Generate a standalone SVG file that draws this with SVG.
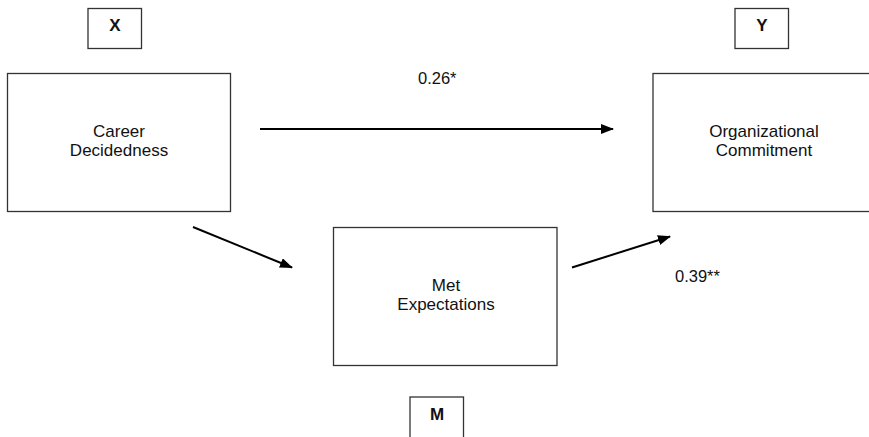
<svg xmlns="http://www.w3.org/2000/svg" width="869" height="437" viewBox="0 0 869 437">
<defs>
<style>
.box{fill:#fff;stroke:#333;stroke-width:1.3}
.t{font-family:"Liberation Sans",Arial,sans-serif;font-size:17px;fill:#111;text-anchor:middle}
.b{font-weight:bold}
.l{font-family:"Liberation Sans",Arial,sans-serif;font-size:16.5px;fill:#111}
.c{stroke:#000;stroke-width:2;fill:none;marker-end:url(#ah)}
</style>
<marker id="ah" markerWidth="13" markerHeight="10" refX="12" refY="5" orient="auto" markerUnits="userSpaceOnUse">
<path d="M0,0 L13,5 L0,10 Z" fill="#000"/>
</marker>
</defs>
<rect width="869" height="437" fill="#fff"/>
<g id="X">
<rect class="box" x="88" y="8.5" width="53.5" height="40"/>
<text class="t b" x="115" y="31">X</text>
</g>
<g id="Y">
<rect class="box" x="735" y="8.5" width="53.5" height="40"/>
<text class="t b" x="762" y="31">Y</text>
</g>
<g id="M">
<rect class="box" x="410" y="397" width="53.5" height="50"/>
<text class="t b" x="437" y="420">M</text>
</g>
<g id="career">
<rect class="box" x="7.5" y="73.5" width="223" height="138"/>
<text class="t" x="119" y="137">Career</text>
<text class="t" x="119" y="156">Decidedness</text>
</g>
<g id="org">
<rect class="box" x="653" y="73.5" width="230" height="138"/>
<text class="t" x="764" y="137">Organizational</text>
<text class="t" x="764" y="156">Commitment</text>
</g>
<g id="met">
<rect class="box" x="333.5" y="227.5" width="223.5" height="138"/>
<text class="t" x="446" y="291">Met</text>
<text class="t" x="446" y="310">Expectations</text>
</g>
<g id="connectors">
<line class="c" x1="260" y1="129" x2="613" y2="129"/>
<line class="c" x1="193" y1="227" x2="292" y2="267.5"/>
<line class="c" x1="572" y1="267.5" x2="670" y2="236.5"/>
</g>
<g id="labels">
<text class="l" x="418" y="83.5">0.26*</text>
<text class="l" x="675" y="282">0.39**</text>
</g>
</svg>
